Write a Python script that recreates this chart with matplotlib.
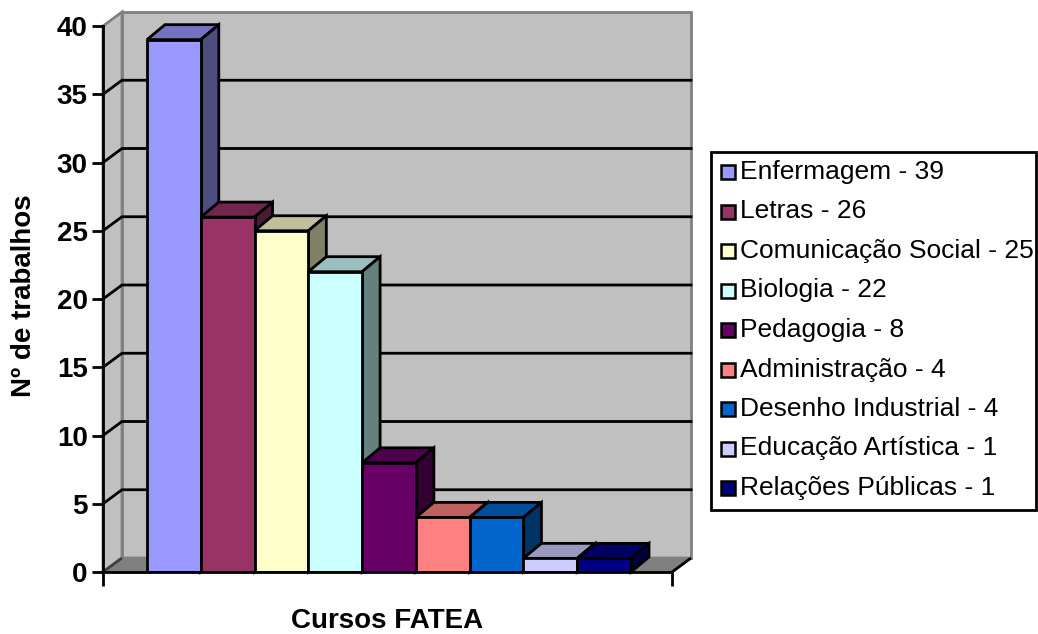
import matplotlib
matplotlib.use("Agg")
import matplotlib.pyplot as plt
from matplotlib.patches import Polygon, Rectangle
import matplotlib.colors as mcolors
import numpy as np

# ---- data ----
cursos = ["Enfermagem", "Letras", "Comunicação Social", "Biologia", "Pedagogia",
          "Administração", "Desenho Industrial", "Educação Artística", "Relações Públicas"]
trabalhos = [39, 26, 25, 22, 8, 4, 4, 1, 1]
cores = ["#9999FF", "#993366", "#FFFFCC", "#CCFFFF", "#660066",
         "#FF8080", "#0066CC", "#CCCCFF", "#000080"]
y_ticks = [0, 5, 10, 15, 20, 25, 30, 35, 40]
y_label = "Nº de trabalhos"
x_label = "Cursos FATEA"

plt.rcParams['font.family'] = ['Liberation Sans', 'DejaVu Sans']

W, H = 1038, 634
fig = plt.figure(figsize=(W / 100, H / 100), dpi=100)

# front plane of the plot in pixels
px_left, px_right, px_bottom, px_top = 103, 672, 572, 26
ax = fig.add_axes([px_left / W, 1 - px_bottom / H, (px_right - px_left) / W, (px_bottom - px_top) / H])

bar_px = (631 - 147) / 9.0
x0_px = 147 + bar_px / 2
xmin = -(x0_px - px_left) / bar_px
xmax = (px_right - x0_px) / bar_px
ymin, ymax = 0, 40
ax.set_xlim(xmin, xmax)
ax.set_ylim(ymin, ymax)
ypx = (px_bottom - px_top) / (ymax - ymin)

# depth offsets (data units)
wdx, wdy = 19 / bar_px, 14 / ypx
bdx, bdy = 18 / bar_px, 15 / ypx

ax.set_facecolor("none")
for s in ax.spines.values():
    s.set_visible(False)

wall = "#C0C0C0"
wall_edge = "#808080"
lw = 2.0

# back wall
ax.add_patch(Polygon([(xmin + wdx, ymin + wdy), (xmax + wdx, ymin + wdy),
                      (xmax + wdx, ymax + wdy), (xmin + wdx, ymax + wdy)],
                     closed=True, facecolor=wall, edgecolor=wall_edge, lw=lw, clip_on=False, zorder=1))
# left side wall
ax.add_patch(Polygon([(xmin, ymin), (xmin + wdx, ymin + wdy), (xmin + wdx, ymax + wdy), (xmin, ymax)],
                     closed=True, facecolor=wall, edgecolor=wall_edge, lw=lw, clip_on=False, zorder=1))
# floor
ax.add_patch(Polygon([(xmin, ymin), (xmax, ymin), (xmax + wdx, ymin + wdy), (xmin + wdx, ymin + wdy)],
                     closed=True, facecolor="#808080", edgecolor=wall_edge, lw=lw, clip_on=False, zorder=1))
ax.plot([xmax, xmax + wdx], [ymin, ymin + wdy], color="black", lw=lw, clip_on=False, zorder=2,
        solid_capstyle="butt")
ax.plot([xmin, xmin + wdx], [ymin, ymin + wdy], color="#404040", lw=lw, clip_on=False, zorder=2,
        solid_capstyle="butt")

# gridlines (back wall + side wall)
for t in y_ticks[1:-1]:
    ax.plot([xmin, xmin + wdx, xmax + wdx], [t, t + wdy, t + wdy], color="black", lw=lw,
            clip_on=False, zorder=2, solid_joinstyle="miter")

# bars with 3D faces
def shade(c, f):
    r, g, b = mcolors.to_rgb(c)
    return (r * f, g * f, b * f)

xs = np.arange(len(trabalhos))
bars = ax.bar(xs, trabalhos, width=1.0, color=cores, edgecolor="black", linewidth=lw, zorder=5)
for i, (b, v, c) in enumerate(zip(bars, trabalhos, cores)):
    xl = b.get_x()
    xr = xl + b.get_width()
    top = Polygon([(xl, v), (xr, v), (xr + bdx, v + bdy), (xl + bdx, v + bdy)], closed=True,
                  facecolor=shade(c, 0.75), edgecolor="black", lw=lw, zorder=4 + i * 0.01,
                  clip_on=False, joinstyle="miter")
    side = Polygon([(xr, 0), (xr + bdx, bdy), (xr + bdx, v + bdy), (xr, v)], closed=True,
                   facecolor=shade(c, 0.5), edgecolor="black", lw=lw, zorder=4 + i * 0.01,
                   clip_on=False, joinstyle="miter")
    ax.add_patch(top)
    ax.add_patch(side)
for i, b in enumerate(bars):
    b.set_zorder(4 + i * 0.01 + 0.005)

# axes lines
ax.plot([xmin, xmin], [ymin, ymax], color="black", lw=lw, clip_on=False, zorder=10)
ax.plot([xmin, xmax], [ymin, ymin], color="black", lw=lw, clip_on=False, zorder=10)
ax.set_xticks([xmin, xmax])
ax.set_xticklabels(["", ""])
ax.tick_params(axis="x", direction="out", length=10, width=lw, color="black")
ax.set_yticks(y_ticks)
ax.set_yticklabels([str(t) for t in y_ticks], fontsize=20, fontweight="bold")
ax.tick_params(axis="y", direction="out", length=8, width=lw, color="black", pad=3)

fig.text(24 / W, 1 - 296 / H, y_label, rotation=90, ha="center", va="center",
         fontsize=20, fontweight="bold")
fig.text(387 / W, 1 - 621 / H, x_label, ha="center", va="center", fontsize=20, fontweight="bold")

# legend (manual, Excel-style)
lg_left, lg_top, lg_right, lg_bottom = 711, 152, 1036, 510
fig.add_artist(Rectangle((lg_left / W, 1 - lg_bottom / H), (lg_right - lg_left) / W,
                         (lg_bottom - lg_top) / H, transform=fig.transFigure,
                         facecolor="white", edgecolor="black", lw=lw))
y_first, y_step = 172, 39.5
sq = 14
for i, (nome, v, c) in enumerate(zip(cursos, trabalhos, cores)):
    yc = y_first + i * y_step
    fig.add_artist(Rectangle((721 / W, 1 - (yc + sq / 2) / H), sq / W, sq / H,
                             transform=fig.transFigure, facecolor=c, edgecolor="black", lw=1.8))
    fig.text(740 / W, 1 - yc / H, f"{nome} - {v}", ha="left", va="center", fontsize=19)

fig.savefig("out.png", dpi=100)
